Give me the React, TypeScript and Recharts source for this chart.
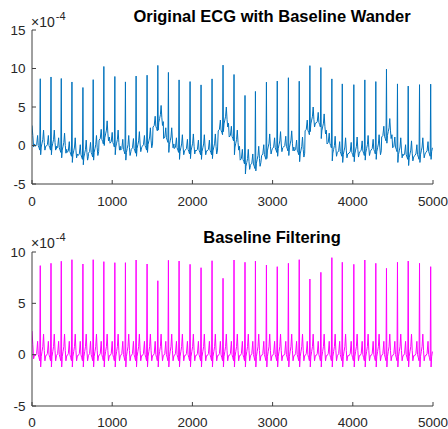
import React from 'react';
import { LineChart, Line, XAxis, YAxis } from 'recharts';

// sample index of every R peak (same beats in both panels)
const rPeakSamples = [
  103, 237, 365, 498, 635, 763, 896, 1033, 1165, 1298, 1435, 1569, 1701, 1834,
  1971, 2108, 2245, 2382, 2519, 2656, 2786, 2923, 3058, 3197, 3332, 3465, 3602,
  3739, 3869, 4013, 4150, 4287, 4420, 4557, 4691, 4832, 4971,
];

// R peak height in the filtered trace, x1e-4
const filteredR = [
  8.67, 8.9, 9.1, 9.25, 8.83, 9.25, 9.06, 8.96, 8.96, 9.22, 8.83, 7.2, 9.19, 9.12,
  8.8, 8.47, 9.15, 7.44, 9.22, 9.0, 9.12, 8.73, 8.57, 8.9, 9.25, 7.37, 8.02,
  9.45, 9.0, 8.8, 9.22, 8.9, 8.41, 9.0, 9.12, 8.9, 8.57,
];

// baseline wander under each beat in the original trace, x1e-4
// (before the R peak / from the R peak on)
const wanderBefore = [
  0.0, 0.0, -0.3, -0.8, -1.2, -0.9, 0.8, 0.4, -0.5, -0.4, 0.0, 2.5, 1.0, -0.3,
  -0.5, -0.6, -0.6, 2.0, 1.2, -1.8, -2.4, -1.2, -0.3, -0.1, -0.6, 2.0, 3.0,
  0.3, -0.8, -0.9, -0.7, -0.5, 1.2, -0.2, -1.2, -1.2, -0.8,
];
const wanderAfter = [
  0.0, 0.0, -0.4, -1.0, -1.3, -0.7, 1.2, 0.0, -0.7, -0.2, 0.3, 3.2, 0.3, -0.6,
  -0.5, -0.6, -0.5, 3.0, 0.0, -2.5, -2.1, -0.5, -0.2, -0.1, -0.9, 3.0, 2.1,
  -0.8, -1.0, -0.9, -0.7, -0.6, 1.5, -1.0, -1.4, -1.0, -0.6,
];

// one heartbeat of the filtered trace: sample offset from R, level x1e-4 (R itself comes from filteredR)
const beatOffsets = [-60, -45, -33, -25, -15, -6, 0, 5, 12, 22, 32, 41, 50, 58, 68];
const beatLevels = [-0.1, 0.1, 1.3, 0.0, -0.3, -0.6, 0, -1.2, -0.2, 0.3, 0.8, 2.0, 0.4, -0.6, -0.1];

// tail of the beat before the record starts
const leadInSamples = [0, 10, 20, 32];
const leadInFiltered = [2.3, 1.0, -0.4, 0.0];
const leadInOriginal = [2.6, 1.3, -0.2, 0.2];

const xTicks = [0, 1000, 2000, 3000, 4000, 5000];
const yTicksTop = [-5, 0, 5, 10, 15];
const yTicksBottom = [-5, 0, 5, 10];

const lastSample = 4995;

const originalSeries: { x: number; v: number }[] = [];
const filteredSeries: { x: number; v: number }[] = [];
leadInSamples.forEach((x, i) => {
  originalSeries.push({ x, v: leadInOriginal[i] });
  filteredSeries.push({ x, v: leadInFiltered[i] });
});
rPeakSamples.forEach((r, i) => {
  beatOffsets.forEach((o, k) => {
    const x = r + o;
    if (x > lastSample) return;
    const f = o === 0 ? filteredR[i] : beatLevels[k];
    const w = o < 0 ? wanderBefore[i] : wanderAfter[i];
    filteredSeries.push({ x, v: f });
    originalSeries.push({ x, v: f + w });
  });
});

const axisColor = '#404040';
const textColor = '#262626';
const font = 'Arial, "Liberation Sans", Helvetica, sans-serif';

function EcgPanel({ data, color, yTicks, height, marginTop, xAxisHeight, labelGap }: any) {
  const yDomain = [yTicks[0], yTicks[yTicks.length - 1]];
  const tickStyle = { fill: textColor, fontSize: 13.5, fontFamily: font };
  return (
    <LineChart width={448} height={height} data={data} margin={{ top: marginTop, right: 15, bottom: 0, left: 0 }}>
      <XAxis
        xAxisId="b"
        dataKey="x"
        type="number"
        domain={[0, 5000]}
        ticks={xTicks}
        interval={0}
        tickSize={-4}
        tickMargin={labelGap}
        height={xAxisHeight}
        stroke={axisColor}
        tick={tickStyle}
        allowDataOverflow
      />
      <XAxis
        xAxisId="t"
        orientation="top"
        dataKey="x"
        type="number"
        domain={[0, 5000]}
        ticks={xTicks}
        interval={0}
        tickSize={-4}
        height={0}
        stroke={axisColor}
        tick={false}
        allowDataOverflow
      />
      <YAxis
        yAxisId="l"
        type="number"
        domain={yDomain}
        ticks={yTicks}
        interval={0}
        tickSize={-4}
        tickMargin={10.5}
        width={32}
        stroke={axisColor}
        tick={tickStyle}
        allowDataOverflow
      />
      <YAxis
        yAxisId="r"
        orientation="right"
        type="number"
        domain={yDomain}
        ticks={yTicks}
        interval={0}
        tickSize={-4}
        width={0}
        stroke={axisColor}
        tick={false}
        allowDataOverflow
      />
      <Line
        xAxisId="b"
        yAxisId="l"
        dataKey="v"
        type="linear"
        stroke={color}
        strokeWidth={1}
        dot={false}
        isAnimationActive={false}
      />
    </LineChart>
  );
}

const panels = [
  { title: 'Original ECG with Baseline Wander', titleY: 21.5, expY: 26.5 },
  { title: 'Baseline Filtering', titleY: 243.3, expY: 248.3 },
];

export default function App() {
  return (
    <div style={{ position: 'absolute', left: 0, top: 0, width: 448, height: 429, background: '#fff', fontFamily: font }}>
      <div style={{ position: 'absolute', left: 0, top: 0 }}>
        <EcgPanel data={originalSeries} color="#0072BD" yTicks={yTicksTop} height={215} marginTop={30} xAxisHeight={31} labelGap={16} />
      </div>
      <div style={{ position: 'absolute', left: 0, top: 215 }}>
        <EcgPanel data={filteredSeries} color="#FF00FF" yTicks={yTicksBottom} height={214} marginTop={37} xAxisHeight={23} labelGap={15} />
      </div>
      <svg width={448} height={429} style={{ position: 'absolute', left: 0, top: 0, pointerEvents: 'none' }}>
        {panels.map((p) => (
          <g key={p.title} fontFamily={font}>
            <text x={272} y={p.titleY} textAnchor="middle" fontWeight="bold" fontSize={16.5} fill="#000">
              {p.title}
            </text>
            <text x={31} y={p.expY} fontSize={14} fill={textColor}>
              ×10
              <tspan dx={1} dy={-7} fontSize={11}>
                -4
              </tspan>
            </text>
          </g>
        ))}
      </svg>
    </div>
  );
}
